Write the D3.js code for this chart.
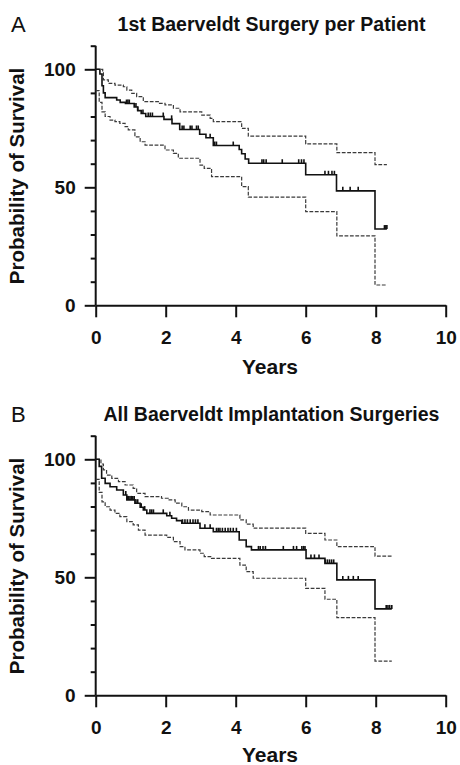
<!DOCTYPE html>
<html><head><meta charset="utf-8">
<script src="https://cdn.jsdelivr.net/npm/d3@7"></script>
<style>body{margin:0;background:#fff}</style>
</head><body>
<svg id="c" width="460" height="765"></svg>
<script>
// ---- data ----
const xTicks = [0, 2, 4, 6, 8, 10];
const yMajor = [0, 50, 100];
const yMinor = [10, 20, 30, 40, 60, 70, 80, 90, 110];
const titles = ["1st Baerveldt Surgery per Patient", "All Baerveldt Implantation Surgeries"];
const letters = ["A", "B"];
const xLabel = "Years";
const yLabel = "Probability of Survival";

// Panel A: [years, % survival] step starts
const aSurv = [[0,100],[0.12,98],[0.18,93],[0.22,90],[0.27,88],[0.6,87],[0.7,86],[0.85,85.5],[1.1,84],[1.2,82.5],[1.3,81.3],[1.43,80],[1.95,78.8],[2.18,77],[2.4,74.5],[2.97,72.5],[3.15,71],[3.36,67.7],[4.1,66],[4.17,64.2],[4.27,62],[4.37,60.2],[6.0,55.3],[6.88,48.5],[7.98,32.3]];
const aUpper = [[0,100],[0.2,98.5],[0.22,95.5],[0.36,94],[0.55,93.3],[0.79,92.6],[0.89,91.2],[1.03,89.8],[1.17,88.4],[1.36,86.3],[1.79,85.6],[1.98,84.9],[2.22,83.5],[2.41,82],[3.03,80.6],[3.27,79.2],[3.36,77.8],[4.17,75],[4.36,71.7],[6.0,68.4],[6.89,64.7],[7.98,59.6]];
const aLower = [[0,91],[0.1,86],[0.18,82],[0.27,80],[0.41,78.5],[0.55,77.8],[0.69,77.1],[0.84,75.7],[0.93,74.3],[1.12,71.4],[1.27,69.3],[1.41,67.9],[1.98,65.8],[2.22,64.4],[2.36,62.3],[2.98,59.4],[3.1,58],[3.31,54.5],[4.17,50.3],[4.36,45.8],[6.0,39.7],[6.89,29.4],[7.98,8.6]];
const aCensor = [0.88,0.92,0.96,1.15,1.2,1.35,1.5,1.56,1.62,1.93,2.17,2.47,2.52,2.7,2.75,2.88,2.93,3.27,3.4,3.45,3.93,4.75,4.8,4.87,5.33,5.8,5.88,5.95,6.55,6.65,6.75,6.82,7.06,7.27,7.5,8.25,8.29,8.32];
const aEnd = 8.32;

// Panel B
const bSurv = [[0,100],[0.1,97],[0.17,92],[0.27,89.8],[0.41,88.4],[0.6,87],[0.79,84.9],[0.89,82.8],[1.12,81.4],[1.27,79.7],[1.36,78.5],[1.46,77.1],[2.03,76.1],[2.17,75],[2.31,74],[2.46,72.9],[2.98,70.8],[3.36,69.3],[4.1,65.8],[4.3,63],[4.45,61.6],[6.01,58],[6.55,55.9],[6.89,48.9],[7.98,36.6]];
const bUpper = [[0,100],[0.15,98],[0.22,95.5],[0.31,93.3],[0.46,91.9],[0.65,90.5],[0.84,89.1],[1.07,87.7],[1.17,85.6],[1.41,84.2],[1.88,83.5],[2.07,82.8],[2.27,81.4],[2.46,79.9],[2.65,78.5],[3.03,77.8],[3.27,76.4],[4.12,74.3],[4.3,72.5],[4.5,70.8],[6.0,68.6],[6.55,65.8],[6.89,63],[7.98,59]];
const bLower = [[0,91.5],[0.1,86],[0.18,82],[0.27,79.9],[0.41,78.5],[0.55,77.1],[0.69,75.7],[0.89,73.6],[1.07,72.2],[1.22,70],[1.41,67.9],[2.03,66.9],[2.22,65.1],[2.41,63],[2.55,61.6],[2.98,60.2],[3.1,58.8],[3.31,58],[4.12,55.2],[4.3,52.4],[4.5,49.6],[6.0,45.3],[6.55,40.7],[6.89,32.9],[7.98,14.5]];
const bCensor = [0.86,0.9,0.94,0.98,1.02,1.06,1.1,1.15,1.2,1.3,1.4,1.55,1.6,1.65,1.93,2.12,2.48,2.55,2.62,2.7,2.78,2.85,2.92,3.12,3.27,3.45,3.5,3.55,3.62,3.7,3.78,3.85,3.93,4.02,4.65,4.7,4.78,4.85,5.36,5.65,5.74,5.89,5.94,5.98,6.15,6.25,6.38,6.56,6.62,6.68,6.74,6.8,7.06,7.22,7.36,7.5,8.3,8.35,8.4,8.46];
const bEnd = 8.46;

// ---- build ----
const panels = [
  {surv: aSurv, upper: aUpper, lower: aLower, censor: aCensor, end: aEnd, yearsY: 374},
  {surv: bSurv, upper: bUpper, lower: bLower, censor: bCensor, end: bEnd, yearsY: 761.5}
];
const font = "'Liberation Sans', Arial, Helvetica, sans-serif";
const svg = d3.select("#c");
const x = d3.scaleLinear().domain([0, 10]).range([95.7, 445.7]);

function valAt(arr, t) { let v = arr[0][1]; for (const [tt, vv] of arr) if (tt <= t) v = vv; return v; }
function withEnd(arr, end) { return arr.concat([[end, arr[arr.length - 1][1]]]); }

panels.forEach((p, i) => {
  const oy = i * 390;
  const y = d3.scaleLinear().domain([0, 110]).range([305.3 + oy, 305.3 + oy - 110 * 2.36]);
  const g = svg.append("g");

  // panel letter
  g.append("text").attr("x", 11).attr("y", 31.5 + oy)
    .attr("font-family", font).attr("font-size", 22).attr("fill", "#111").text(letters[i]);
  // title
  g.append("text").attr("x", 271.5).attr("y", 30.5 + oy).attr("text-anchor", "middle")
    .attr("font-family", font).attr("font-size", 19.5).attr("font-weight", "bold").attr("fill", "#111").text(titles[i]);

  // y axis minor
  const yMin = g.append("g").attr("transform", `translate(${x(0)},0)`)
    .call(d3.axisLeft(y).tickValues(yMinor).tickSize(5).tickSizeOuter(0).tickFormat(""));
  yMin.select(".domain").remove();
  // y axis major
  const yAx = g.append("g").attr("transform", `translate(${x(0)},0)`)
    .call(d3.axisLeft(y).tickValues(yMajor).tickSize(11).tickSizeOuter(0).tickPadding(9));
  // x axis
  const xAx = g.append("g").attr("transform", `translate(0,${y(0)})`)
    .call(d3.axisBottom(x).tickValues(xTicks).tickSize(12).tickSizeOuter(0).tickPadding(13));
  [yMin, yAx, xAx].forEach(a => {
    a.selectAll("path,line").attr("stroke", "#111").attr("stroke-width", 2);
    a.selectAll("text").attr("font-family", font).attr("font-size", 19).attr("font-weight", "bold").attr("fill", "#111");
  });
  yAx.select(".domain").attr("d", `M0,${y(110)}V${y(0)}`);

  // axis labels
  g.append("text").attr("x", 270).attr("y", p.yearsY).attr("text-anchor", "middle")
    .attr("font-family", font).attr("font-size", 21).attr("font-weight", "bold").attr("fill", "#111").text(xLabel);
  g.append("text").attr("transform", `translate(24,${176 + oy}) rotate(-90)`).attr("text-anchor", "middle")
    .attr("font-family", font).attr("font-size", 20.5).attr("font-weight", "bold").attr("fill", "#111").text(yLabel);

  const line = d3.line().x(d => x(d[0])).y(d => y(d[1])).curve(d3.curveStepAfter);
  // CI dashed
  [p.upper, p.lower].forEach(arr => {
    g.append("path").attr("d", line(withEnd(arr, p.end))).attr("fill", "none")
      .attr("stroke", "#3a3a3a").attr("stroke-width", 1.2).attr("stroke-dasharray", "3.8,1.6");
  });
  // survival
  g.append("path").attr("d", line(withEnd(p.surv, p.end))).attr("fill", "none")
    .attr("stroke", "#111").attr("stroke-width", 1.6);
  // censor marks
  g.selectAll(".cens").data(p.censor).enter().append("line")
    .attr("x1", d => x(d)).attr("x2", d => x(d))
    .attr("y1", d => y(valAt(p.surv, d))).attr("y2", d => y(valAt(p.surv, d)) - 4)
    .attr("stroke", "#111").attr("stroke-width", 1.6);
});
</script>
</body></html>
